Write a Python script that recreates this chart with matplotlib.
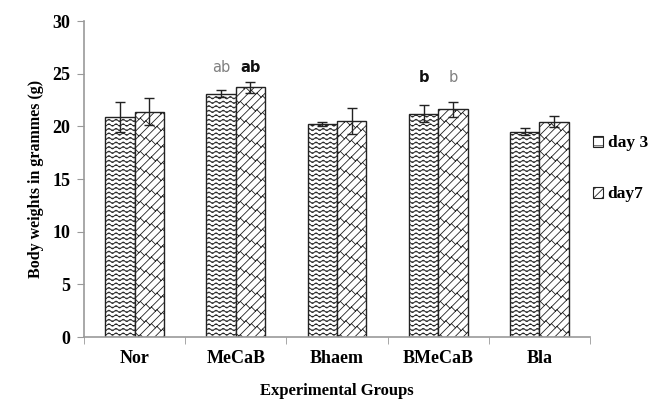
import numpy as np
import matplotlib
matplotlib.use('Agg')
from matplotlib import pyplot as plt
from matplotlib import hatch as mhatch
from matplotlib.path import Path
from matplotlib.patches import Patch

groups = ['Nor', 'MeCaB', 'Bhaem', 'BMeCaB', 'Bla']
day3 = [20.9, 23.1, 20.2, 21.2, 19.5]
day3_err = [1.45, 0.35, 0.2, 0.8, 0.3]
day7 = [21.4, 23.7, 20.5, 21.6, 20.45]
day7_err = [1.3, 0.5, 1.2, 0.7, 0.55]
# significance letters: (group index, series, letter, bold)
letters = [(1, 0, 'ab', False), (1, 1, 'ab', True), (3, 0, 'b', True), (3, 1, 'b', False)]


# custom hatches: '*' -> wavy lines, 'O' -> diagonal brick
class WavyHatch(mhatch.HatchPatternBase):
    def __init__(self, hatch, density):
        self.rows = 22 if '*' in hatch else 0
        self.pts = 14 * 8 + 1
        self.num_vertices = self.rows * self.pts

    def set_vertices_and_codes(self, vertices, codes):
        x = np.linspace(0, 1, self.pts)
        for i in range(self.rows):
            s = slice(i * self.pts, (i + 1) * self.pts)
            vertices[s, 0] = x
            vertices[s, 1] = (i + 0.5) / self.rows + 0.012 * np.sin(2 * np.pi * 14 * x)
            codes[s] = Path.LINETO
            codes[i * self.pts] = Path.MOVETO


class BrickHatch(mhatch.HatchPatternBase):
    def __init__(self, hatch, density):
        self.on = 'O' in hatch
        self.n = 12
        self.m = 9
        if self.on:
            self.lines = [k / self.n for k in range(-self.n, self.n + 1)]
            self.cross = []
            for k in range(-self.n, self.n):
                for j in range(-1, self.m + 2):
                    x0 = j / self.m + (k % 2) * 0.5 / self.m
                    self.cross.append((x0, k / self.n))
            self.num_vertices = 2 * (len(self.lines) + len(self.cross))
        else:
            self.num_vertices = 0

    def set_vertices_and_codes(self, vertices, codes):
        segs = []
        for c in self.lines:
            segs.append(((-0.1, -0.1 + c), (1.1, 1.1 + c)))
        h = 0.5 / self.n
        for x0, c in self.cross:
            segs.append(((x0, x0 + c), (x0 - h, x0 + c + h)))
        for i, (a, b) in enumerate(segs):
            vertices[2 * i] = a
            vertices[2 * i + 1] = b
            codes[2 * i] = Path.MOVETO
            codes[2 * i + 1] = Path.LINETO


mhatch._hatch_types = [t for t in mhatch._hatch_types
                       if t not in (mhatch.Stars, mhatch.LargeCircles)] + [WavyHatch, BrickHatch]

plt.rcParams['hatch.linewidth'] = 0.6
plt.rcParams['hatch.color'] = '#222222'

serif = 'Liberation Serif'

fig = plt.figure(figsize=(6.53, 4.01), dpi=100)
ax = fig.add_axes([0.1286, 0.1596, 0.775, 0.788])

x = np.arange(len(groups))
w = 0.29
ax.bar(x - w / 2, day3, w, yerr=day3_err, capsize=3.5, color='white', edgecolor='#222222',
       linewidth=1, hatch='*', error_kw=dict(elinewidth=1, capthick=1, ecolor='#222222'))
ax.bar(x + w / 2, day7, w, yerr=day7_err, capsize=3.5, color='white', edgecolor='#222222',
       linewidth=1, hatch='O', error_kw=dict(elinewidth=1, capthick=1, ecolor='#222222'))

for gi, si, txt, bold in letters:
    xp = gi - w / 2 if si == 0 else gi + w / 2
    yp = 24.9 if gi == 1 else 23.9
    ax.text(xp, yp, txt, ha='center', va='bottom', fontsize=10.5,
            family='DejaVu Sans', fontweight='bold' if bold else 'normal',
            color='#111111' if bold else '#808080')

ax.set_xlim(-0.5, len(groups) - 0.5)
ax.set_ylim(0, 30)
ax.set_yticks(range(0, 31, 5))
ax.set_xticks(x)
ax.set_xticklabels(groups)
ax.set_xticks(np.arange(-0.5, len(groups), 1), minor=True)
ax.tick_params(axis='x', which='major', length=0, pad=9)
ax.tick_params(axis='x', which='minor', length=5, color='#999999', direction='out')
ax.tick_params(axis='y', length=5, color='#999999', pad=5)
for lab in ax.get_xticklabels() + ax.get_yticklabels():
    lab.set_family(serif)
    lab.set_fontweight('bold')
    lab.set_fontsize(13)

for s in ['top', 'right']:
    ax.spines[s].set_visible(False)
for s in ['left', 'bottom']:
    ax.spines[s].set_color('#999999')
    ax.spines[s].set_linewidth(1.2)

ax.set_ylabel('Body weights in grammes (g)', family=serif, fontweight='bold', fontsize=11.5, labelpad=6)
ax.set_xlabel('Experimental Groups', family=serif, fontweight='bold', fontsize=12, labelpad=12)

handles = [Patch(facecolor='white', edgecolor='#222222', hatch='--', linewidth=0.8),
           Patch(facecolor='white', edgecolor='#222222', hatch='////', linewidth=0.8)]
fig.legend(handles, ['day 3', 'day7'], loc='center left', bbox_to_anchor=(0.884, 0.579),
           frameon=False, handlelength=0.6, handleheight=0.6, handletextpad=0.25,
           labelspacing=2.0, prop=dict(family=serif, weight='bold', size=12.5))

fig.savefig('out.png', dpi=100)
